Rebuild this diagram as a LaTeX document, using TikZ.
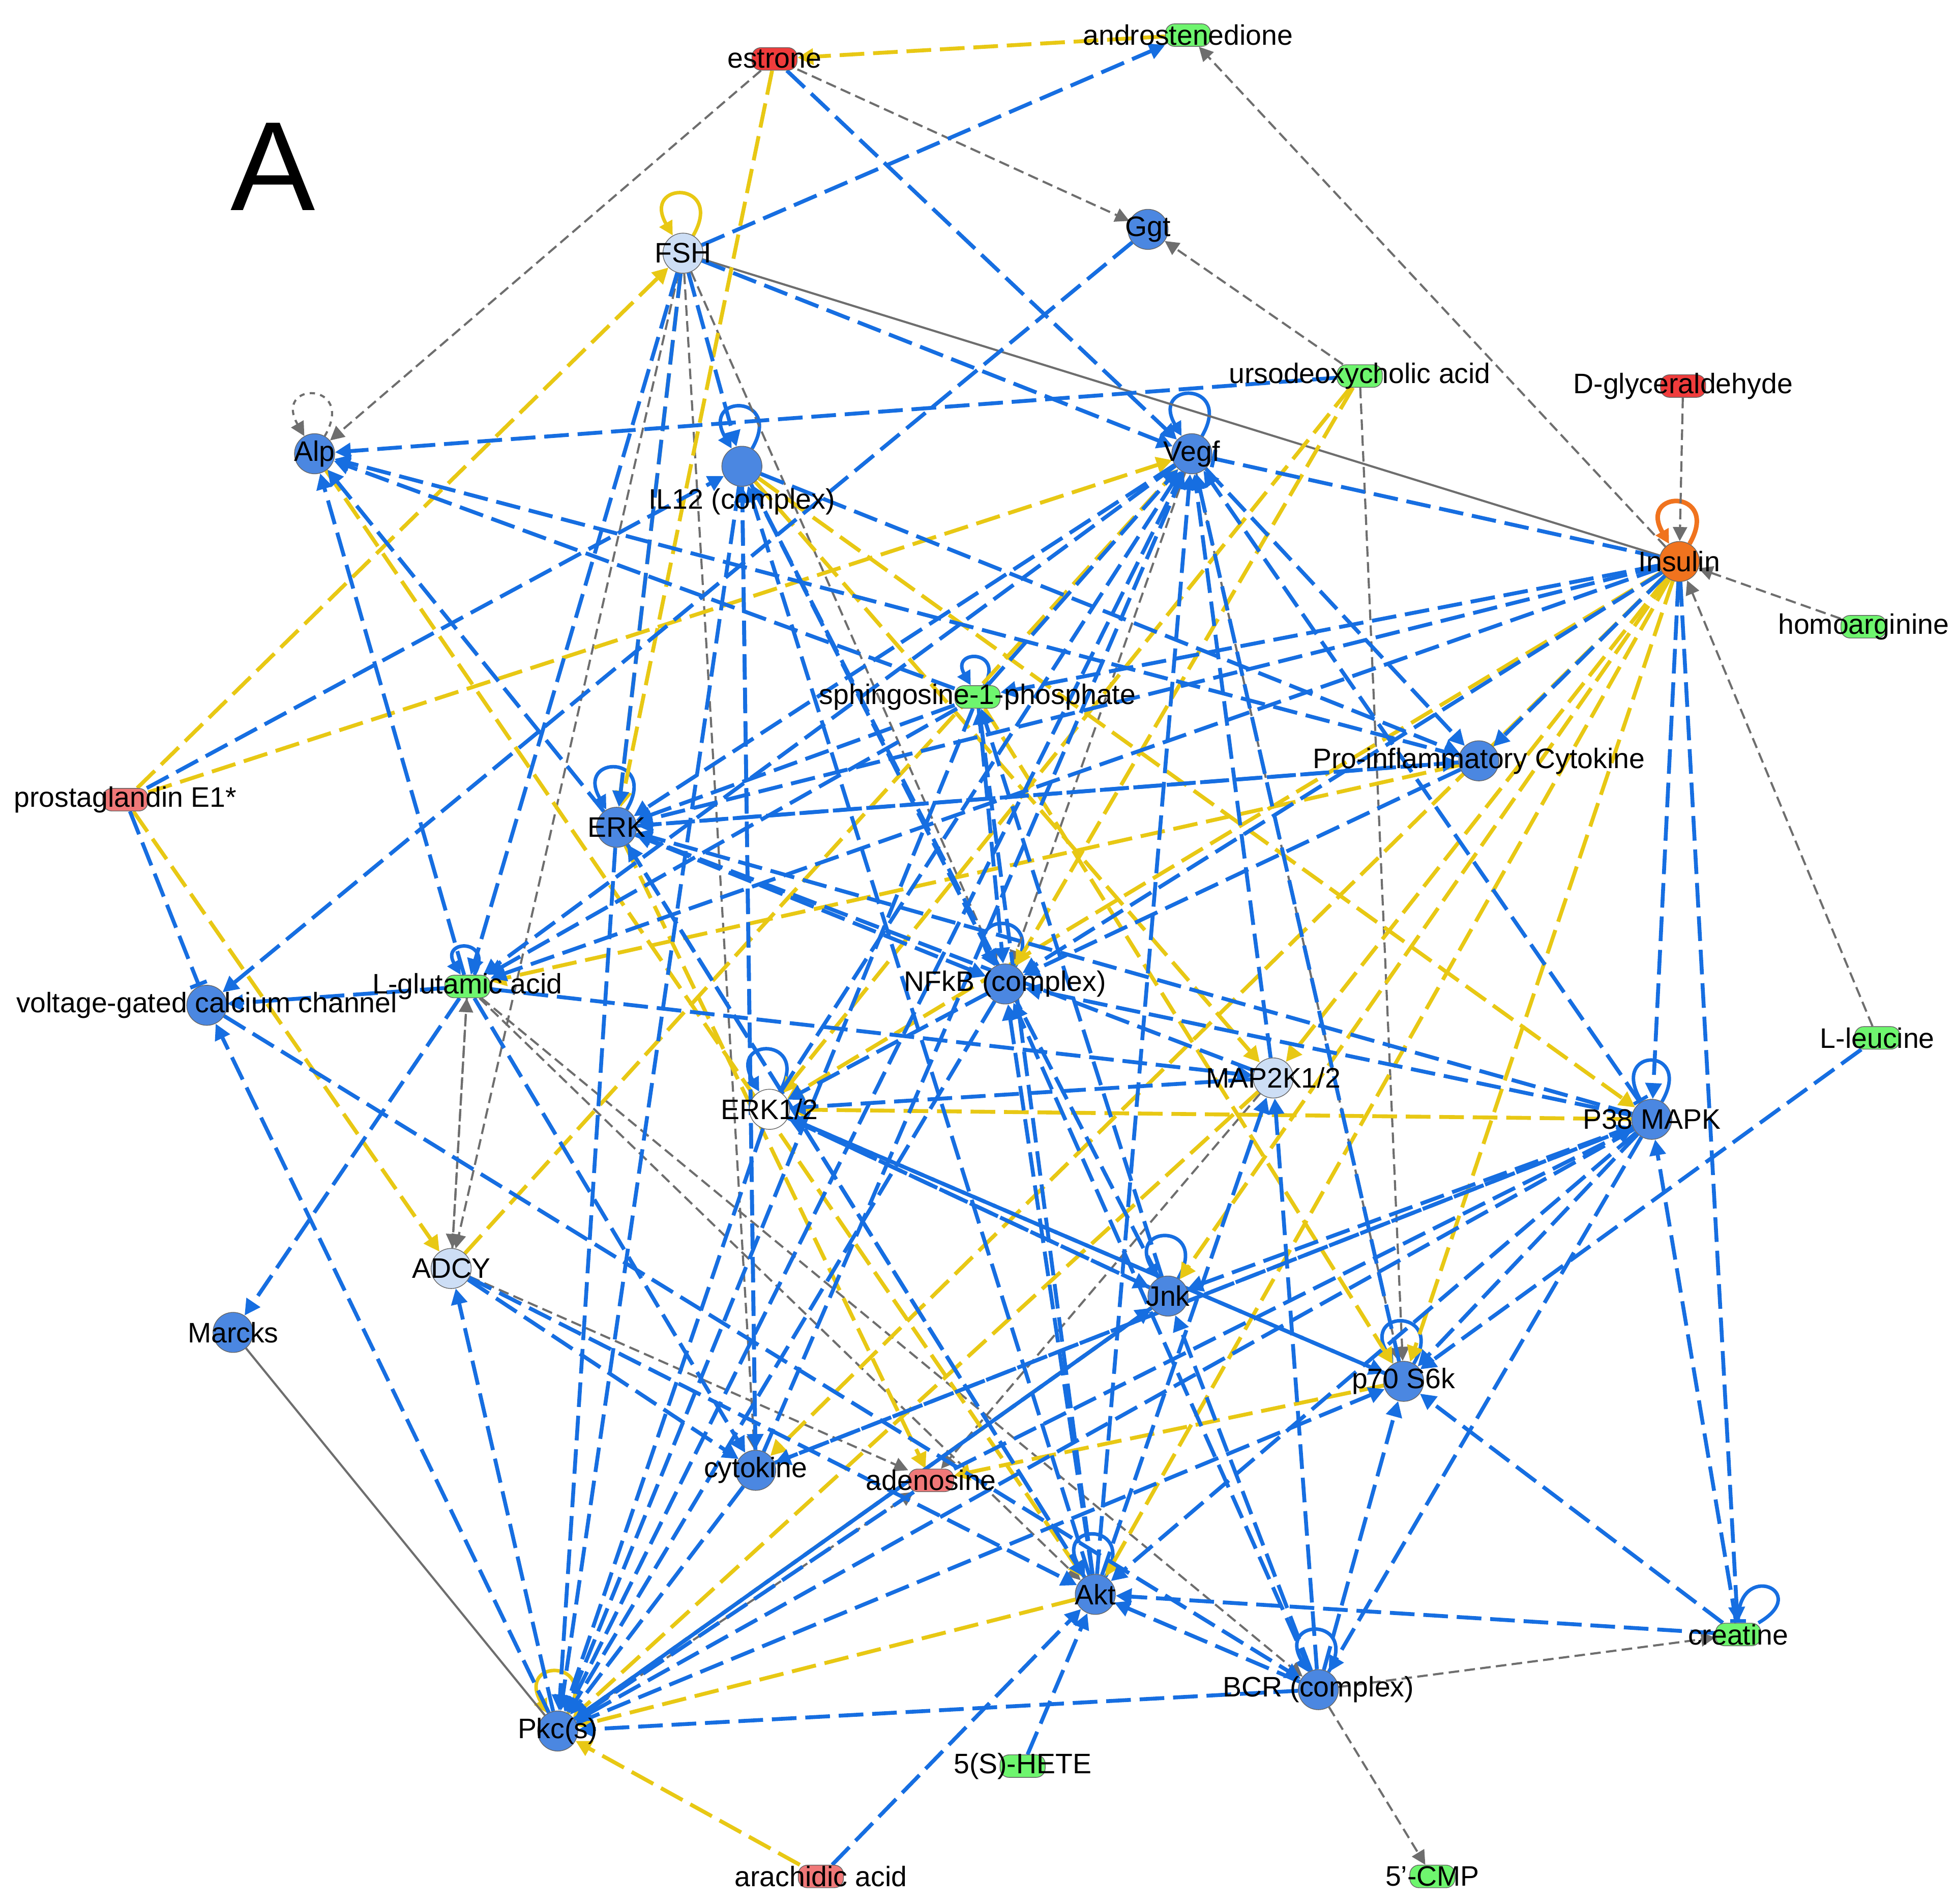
\documentclass[tikz,border=0pt]{standalone}
\usepackage{fontspec}
\setmainfont{Liberation Sans}
\usetikzlibrary{arrows.meta,backgrounds}
\definecolor{eblue}{RGB}{22,110,225}
\definecolor{eyel}{RGB}{232,200,20}
\definecolor{egray}{RGB}{110,110,110}
\definecolor{nblue}{RGB}{75,135,225}
\definecolor{nlight}{RGB}{205,222,245}
\definecolor{nred}{RGB}{240,60,60}
\definecolor{npink}{RGB}{240,120,120}
\definecolor{ngreen}{RGB}{110,245,110}
\definecolor{norange}{RGB}{240,115,30}
\begin{document}
\begin{tikzpicture}[x=0.025cm,y=-0.025cm,
    every label/.style={font=\fontsize{16}{18}\selectfont, inner sep=0pt},
    prot/.style={shape=circle, draw=black!60, minimum size=0.8cm, inner sep=0pt, fill=nblue},
    chem/.style={shape=rectangle, rounded corners=0.18cm, draw=black!60, minimum width=0.9cm, minimum height=0.45cm, inner sep=0pt},
    bl/.style={draw=eblue, line width=2.2pt, dash pattern=on 14pt off 5pt, -{Triangle[length=9pt,width=9pt]}},
    yl/.style={draw=eyel, line width=2.2pt, dash pattern=on 14pt off 5pt, -{Triangle[length=9pt,width=9pt]}},
    gr/.style={draw=egray, line width=1.2pt, dash pattern=on 6pt off 3pt, -{Triangle[length=8pt,width=8pt]}},
    sg/.style={draw=egray, line width=1.2pt},
    bar/.style={draw=eblue, line width=2.2pt, dash pattern=on 14pt off 5pt, -{Bar[width=10pt]}},
    lp/.style={line width=2pt, -{Triangle[length=8pt,width=8pt]}, looseness=9, min distance=1.5cm}]
\useasboundingbox (0,0) rectangle (1560,1519);
\node[font=\fontsize{72}{80}\selectfont] (ttl) at (218,133) {A};
% nodes
\node[chem, fill=nred, label=center:estrone] (estr) at (618,47) {};
\node[chem, fill=ngreen, label=center:androstenedione] (andr) at (948,28) {};
\node[prot, fill=nlight, label=center:FSH] (fsh) at (545,202) {};
\node[prot, label=center:Ggt] (ggt) at (916,183) {};
\node[chem, fill=ngreen, label=center:ursodeoxycholic acid] (urso) at (1085,300) {};
\node[chem, fill=nred, label=center:D-glyceraldehyde] (dgly) at (1343,308) {};
\node[prot, label=center:Alp] (alp) at (251,362) {};
\node[prot, label={[yshift=-0.7cm]center:IL12 (complex)}] (il12) at (592,372) {};
\node[prot, label=center:Vegf] (vegf) at (951,362) {};
\node[prot, fill=norange, label=center:Insulin] (ins) at (1340,448) {};
\node[chem, fill=ngreen, label=center:homoarginine] (harg) at (1487,500) {};
\node[chem, fill=ngreen, label=center:sphingosine-1-phosphate] (s1p) at (780,556) {};
\node[prot, label=center:Pro-inflammatory Cytokine] (pic) at (1180,607) {};
\node[chem, fill=npink, label=center:prostaglandin E1*] (pge) at (100,638) {};
\node[prot, label=center:ERK] (erk) at (492,660) {};
\node[chem, fill=ngreen, label=center:L-glutamic acid] (glu) at (373,787) {};
\node[prot, label=center:voltage-gated calcium channel] (vgcc) at (165,802) {};
\node[prot, label=center:NFkB (complex)] (nfkb) at (802,785) {};
\node[prot, fill=nlight, label=center:MAP2K1/2] (mapk) at (1016,860) {};
\node[chem, fill=ngreen, label=center:L-leucine] (leu) at (1498,828) {};
\node[prot, fill=white, label=center:ERK1/2] (erk12) at (614,885) {};
\node[prot, label=center:P38 MAPK] (p38) at (1318,893) {};
\node[prot, fill=nlight, label=center:ADCY] (adcy) at (360,1012) {};
\node[prot, label=center:Jnk] (jnk) at (932,1034) {};
\node[prot, label=center:Marcks] (marc) at (186,1063) {};
\node[prot, label=center:p70 S6k] (p70) at (1120,1102) {};
\node[prot, label=center:cytokine] (cyt) at (603,1173) {};
\node[chem, fill=npink, label=center:adenosine] (aden) at (743,1181) {};
\node[prot, label=center:Akt] (akt) at (874,1272) {};
\node[chem, fill=ngreen, label=center:creatine] (crea) at (1387,1304) {};
\node[prot, label=center:BCR (complex)] (bcr) at (1052,1348) {};
\node[prot, label=center:Pkc(s)] (pkc) at (445,1381) {};
\node[chem, fill=ngreen, label=center:5(S)-HETE] (hete) at (816,1409) {};
\node[chem, fill=npink, label=center:arachidic acid] (arach) at (655,1497) {};
\node[chem, fill=ngreen, label=center:5'-CMP] (cmp) at (1143,1497) {};
\begin{pgfonlayer}{background}
% self loops
\draw[lp, eyel] (fsh) to[out=60, in=120, loop] (fsh);
\draw[lp, egray, dashed, line width=1.2pt] (alp) to[out=60, in=120, loop] (alp);
\foreach \n in {il12,vegf,s1p,erk,glu,nfkb,erk12,jnk,p70,akt,bcr}
  \draw[lp, eblue] (\n) to[out=60, in=120, loop] (\n);
\draw[lp, norange, line width=2.6pt] (ins) to[out=60, in=120, loop] (ins);
\draw[lp, eyel] (pkc) to[out=60, in=120, loop] (pkc);
\draw[lp, eblue, -{Bar[width=9pt]}] (p38) to[out=60, in=120, loop] (p38);
\draw[lp, eblue, -{Bar[width=9pt]}] (crea) to[out=30, in=90, loop] (crea);
% solid gray
\draw[sg] (fsh) -- (ins);
\draw[sg] (marc) -- (pkc);
% gray dashed
\foreach \a/\b in {estr/ggt, estr/alp, urso/ggt, ins/andr, dgly/ins, harg/ins, leu/ins,
    bcr/crea, bcr/cmp, fsh/adcy, fsh/nfkb, glu/adcy, adcy/glu, adcy/aden, vegf/p70,
    urso/p70, pkc/aden, glu/bcr, vegf/nfkb, mapk/aden, fsh/cyt, glu/akt}
  \draw[gr] (\a) -- (\b);
% yellow dashed
\foreach \a/\b in {andr/estr, estr/erk, pge/fsh, pge/adcy, pge/vegf, ins/erk12, ins/p70,
    ins/akt, ins/mapk, ins/jnk, alp/akt, urso/erk12, urso/nfkb, arach/pkc, akt/pkc,
    adcy/vegf, p70/aden, il12/p38, p38/erk12, mapk/pkc, jnk/pkc, fsh/erk, s1p/p70,
    pic/glu, ins/cyt, erk/aden, il12/mapk}
  \draw[yl] (\a) -- (\b);
% blue dashed
\foreach \a/\b in {fsh/andr, estr/vegf, fsh/vegf, fsh/il12, fsh/erk, fsh/glu, ggt/vgcc,
    urso/alp, ins/erk, ins/glu, ins/pic, ins/nfkb, ins/crea, pge/il12, erk/alp, glu/alp,
    pic/alp, s1p/alp, erk/pkc, erk12/pkc, vegf/pkc, nfkb/pkc, s1p/pkc, il12/pkc, jnk/pkc,
    p38/pkc, bcr/pkc, aden/pkc, cyt/pkc, pkc/vgcc, pkc/adcy, arach/akt, hete/akt,
    p38/akt, p38/p70, p38/bcr, p38/jnk, p38/erk, p38/nfkb, p38/cyt, leu/p70, crea/p70,
    crea/akt, bcr/akt, bcr/p70, erk12/jnk, erk12/p70, jnk/s1p, akt/vegf, akt/nfkb,
    akt/erk, akt/s1p, cyt/il12, cyt/vegf, erk/nfkb, erk/pic, nfkb/erk12, vegf/erk,
    vegf/pic, vegf/glu, glu/vgcc, glu/marc, glu/mapk, mapk/erk12, mapk/erk, adcy/cyt,
    adcy/akt, il12/cyt, il12/nfkb, il12/pic, s1p/nfkb, s1p/erk, s1p/vegf, s1p/glu,
    bcr/jnk, bcr/mapk, bcr/nfkb, crea/p38, p70/vegf, p70/erk12, pic/erk, vgcc/bcr,
    jnk/il12, akt/il12, mapk/vegf, p38/vegf, ins/s1p, pic/nfkb, erk12/vegf, aden/p38,
    cyt/p38, pkc/jnk, pkc/p70, erk/akt, glu/cyt, jnk/erk12, akt/mapk, ins/p38}
  \draw[bl] (\a) -- (\b);
\draw[bar] (ins) -- (vegf);
\draw[bar] (pge) -- (vgcc);
\end{pgfonlayer}
\end{tikzpicture}
\end{document}
